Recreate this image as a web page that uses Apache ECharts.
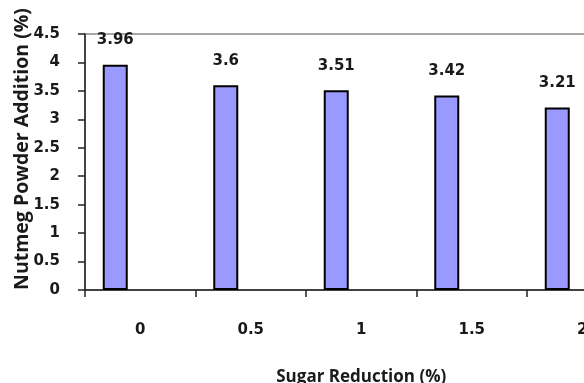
<!DOCTYPE html>
<html>
<head>
<meta charset="utf-8">
<script src="https://cdn.jsdelivr.net/npm/echarts@6/dist/echarts.min.js"></script>
<style>
  html, body { margin: 0; padding: 0; background: #fff; }
  #chart { width: 584px; height: 383px; }
</style>
</head>
<body>
<div id="chart"></div>
<script>
// Sugar reduction levels (%) on the x axis
const categories = ['0', '0.5', '1', '1.5', '2'];
// Nutmeg powder addition (%) for each level
const nutmegValues = [3.96, 3.6, 3.51, 3.42, 3.21];
// Empty companion series keeps the bars in the left slot of each category
const emptyValues = [null, null, null, null, null];

const textColor = '#1a1a1a';
const chart = echarts.init(document.getElementById('chart'), null, { renderer: 'canvas' });

chart.setOption({
  animation: false,
  backgroundColor: '#ffffff',
  grid: {
    left: 85, top: 34, bottom: 93, right: -53.5,
    containLabel: false,
    outerBoundsMode: 'none',
    show: true, borderColor: '#8a8a8a', borderWidth: 1.5, backgroundColor: 'transparent'
  },
  xAxis: {
    type: 'category',
    data: categories,
    name: 'Sugar Reduction (%)',
    nameLocation: 'middle',
    nameGap: 79,
    nameMoveOverlap: false,
    nameTextStyle: { fontFamily: 'Open Sans', fontWeight: 'bold', fontSize: 17, color: textColor },
    axisLine: { lineStyle: { color: '#222', width: 1.5 } },
    axisTick: { show: true, length: 7, lineStyle: { color: '#222', width: 1.5 } },
    axisLabel: { margin: 33, fontFamily: 'DejaVu Sans', fontWeight: 'bold', fontSize: 15, color: textColor }
  },
  yAxis: {
    type: 'value',
    min: 0, max: 4.5, interval: 0.5,
    name: 'Nutmeg Powder Addition (%)',
    nameLocation: 'middle',
    nameGap: 53,
    nameMoveOverlap: false,
    nameTextStyle: {
      fontFamily: 'Open Sans', fontWeight: 'bold', fontSize: 19.5, color: textColor,
      padding: [0, 0, 0, 26]
    },
    axisLine: { show: true, lineStyle: { color: '#222', width: 1.5 } },
    axisTick: { show: true, inside: false, length: 7, lineStyle: { color: '#222', width: 1.5 } },
    splitLine: { show: false },
    axisLabel: { margin: 25, fontFamily: 'DejaVu Sans', fontWeight: 'bold', fontSize: 15, color: textColor }
  },
  series: [
    {
      type: 'bar',
      data: nutmegValues,
      barWidth: 25,
      barGap: '100%',
      itemStyle: { color: '#9999ff', borderColor: '#000', borderWidth: 2 },
      label: {
        show: true, position: 'top', distance: 17,
        fontFamily: 'DejaVu Sans', fontWeight: 'bold', fontSize: 15, color: textColor
      }
    },
    {
      type: 'bar',
      data: emptyValues,
      barWidth: 25,
      barGap: '100%'
    }
  ]
});
</script>
</body>
</html>
